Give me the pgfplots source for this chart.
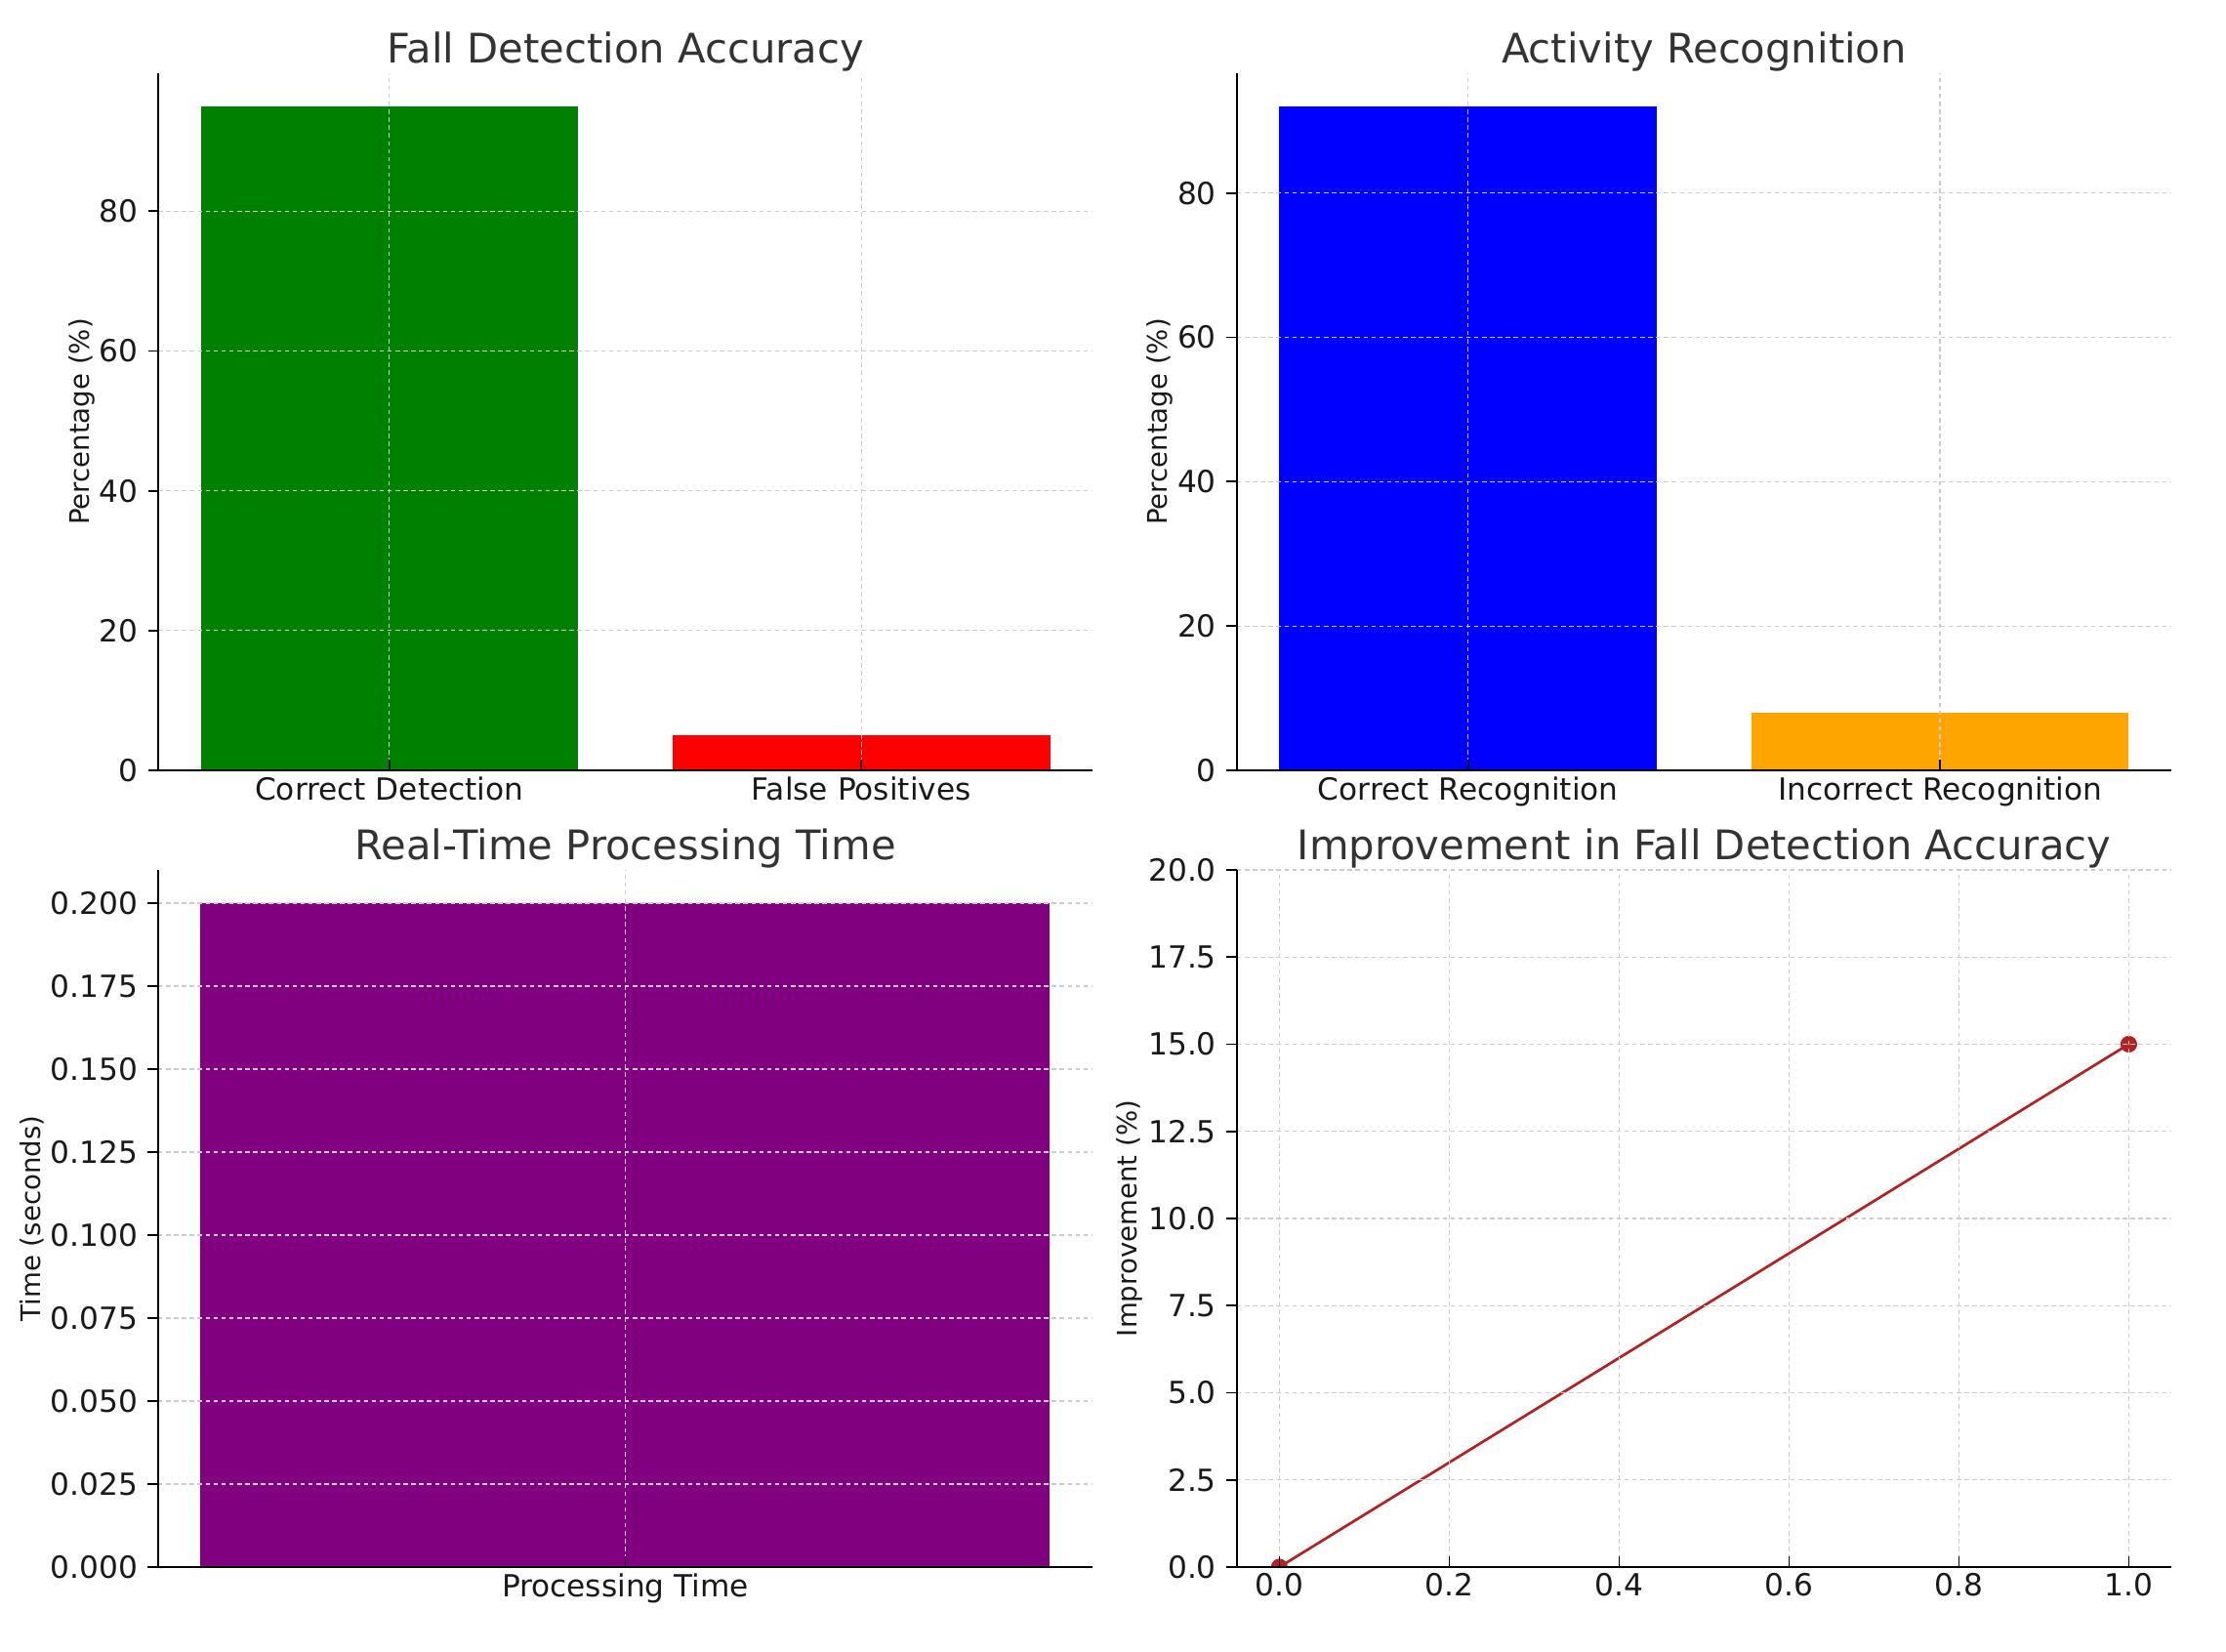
\documentclass[border=0pt]{standalone}
\usepackage{fontspec}
\setmainfont{DejaVu Sans}
\usepackage{pgfplots}
\pgfplotsset{compat=1.18}
\definecolor{mgreen}{RGB}{0,128,0}
\definecolor{mred}{RGB}{255,0,0}
\definecolor{mblue}{RGB}{0,0,255}
\definecolor{morange}{RGB}{255,165,0}
\definecolor{mpurple}{RGB}{128,0,128}
\definecolor{mfire}{RGB}{178,34,34}
\definecolor{titlegray}{RGB}{51,51,51}
\pgfplotsset{
 mystyle/.style={
  scale only axis, width=319pt, height=238pt,
  axis x line*=bottom, axis y line*=left,
  axis line style={line width=0.8pt, black, -},
  axis on top,
  grid=major,
  major grid style={gray!40, line width=0.4pt, dash pattern=on 1.5pt off 1.2pt},
  xtick align=inside, ytick align=outside,
  major tick length=3.5pt,
  tick style={black, line width=0.6pt},
  ticklabel style={font=\fontsize{10.4}{12}\selectfont, text=black!90},
  xticklabel style={yshift=1.4pt},
  title style={font=\fontsize{13.9}{16}\selectfont, at={(axis description cs:0.5,1)}, anchor=center, yshift=1.3pt, text=titlegray},
  label style={font=\fontsize{9.2}{11}\selectfont, text=black!90},
  /pgf/number format/assume math mode=true,
  ymin=0,
 }
}
\begin{document}
\begin{tikzpicture}
\useasboundingbox (0,0) rectangle (760pt,563.7pt);
% Top-left
\begin{axis}[mystyle, at={(54pt,300.7pt)}, anchor=south west,
  title={Fall Detection Accuracy},
  ylabel={Percentage (\%)},
  ylabel style={at={(axis description cs:-0.082,0.5)}, anchor=center},
  xmin=-0.49, xmax=1.49, ymax=99.75,
  xtick={0,1}, xticklabels={Correct Detection, False Positives},
  ytick={0,20,40,60,80}]
\addplot[ybar, bar width=0.8, bar shift=0pt, fill=mgreen, draw=none] coordinates {(0,95)};
\addplot[ybar, bar width=0.8, bar shift=0pt, fill=mred, draw=none] coordinates {(1,5)};
\end{axis}
% Top-right
\begin{axis}[mystyle, at={(422.3pt,300.7pt)}, anchor=south west,
  title={Activity Recognition},
  ylabel={Percentage (\%)},
  ylabel style={at={(axis description cs:-0.083,0.5)}, anchor=center},
  xmin=-0.49, xmax=1.49, ymax=96.6,
  xtick={0,1}, xticklabels={Correct Recognition, Incorrect Recognition},
  ytick={0,20,40,60,80}]
\addplot[ybar, bar width=0.8, bar shift=0pt, fill=mblue, draw=none] coordinates {(0,92)};
\addplot[ybar, bar width=0.8, bar shift=0pt, fill=morange, draw=none] coordinates {(1,8)};
\end{axis}
% Bottom-left
\begin{axis}[mystyle, at={(54pt,28.7pt)}, anchor=south west,
  title={Real-Time Processing Time},
  ylabel={Time (seconds)},
  ylabel style={at={(axis description cs:-0.135,0.5)}, anchor=center},
  xmin=-0.44, xmax=0.44, ymax=0.21,
  xtick={0}, xticklabels={Processing Time},
  ytick={0,0.025,0.05,0.075,0.1,0.125,0.15,0.175,0.2},
  yticklabel style={/pgf/number format/.cd, fixed, fixed zerofill, precision=3},
  scaled y ticks=false]
\addplot[ybar, bar width=0.8, bar shift=0pt, fill=mpurple, draw=none] coordinates {(0,0.2)};
\end{axis}
% Bottom-right
\begin{axis}[mystyle, at={(422.3pt,28.7pt)}, anchor=south west,
  title={Improvement in Fall Detection Accuracy},
  ylabel={Improvement (\%)},
  ylabel style={at={(axis description cs:-0.115,0.5)}, anchor=center},
  xmin=-0.05, xmax=1.05, ymax=20,
  xtick={0,0.2,0.4,0.6,0.8,1},
  ytick={0,2.5,5,7.5,10,12.5,15,17.5,20},
  xticklabel style={/pgf/number format/.cd, fixed, fixed zerofill, precision=1},
  yticklabel style={/pgf/number format/.cd, fixed, fixed zerofill, precision=1},
  clip marker paths=true]
\addplot[mfire, line width=0.9pt, mark=*, mark size=2.4pt, mark options={solid, fill=mfire, draw=mfire}] coordinates {(0,0) (1,15)};
\end{axis}
\end{tikzpicture}
\end{document}
